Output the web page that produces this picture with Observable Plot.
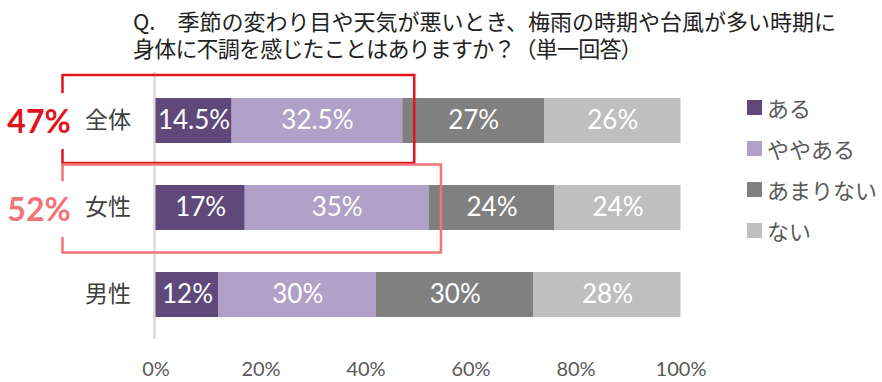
<!DOCTYPE html>
<html><head><meta charset="utf-8">
<script src="https://cdn.jsdelivr.net/npm/d3@7"></script>
<script src="https://cdn.jsdelivr.net/npm/@observablehq/plot@0.6"></script>
<style>
body{margin:0;background:#fff;}
#wrap{position:relative;width:882px;height:382px;overflow:hidden;font-family:"Noto Sans CJK JP",sans-serif;}
.tl{position:absolute;left:133px;font-size:22px;line-height:22px;height:22px;color:#222;white-space:nowrap;}
#chart{position:absolute;left:0;top:66px;}
.item{position:absolute;left:747px;height:26px;display:flex;align-items:center;font-size:22px;color:#595959;white-space:nowrap;}
.sw{width:15px;height:15px;margin-right:5px;}
</style></head>
<body>
<div id="wrap">
  <div id="title"></div>
  <div id="chart"></div>
  <div id="legend"></div>
</div>
<script>
const titleLines = ["Q.　季節の変わり目や天気が悪いとき、梅雨の時期や台風が多い時期に", "身体に不調を感じたことはありますか？（単一回答）"];
const categories = ["全体", "女性", "男性"];
const series = ["ある", "ややある", "あまりない", "ない"];
const aru = [14.5, 17, 12];
const yayaAru = [32.5, 35, 30];
const amariNai = [27, 24, 30];
const nai = [26, 24, 28];
const xTicks = [0, 20, 40, 60, 80, 100];
const highlightCats = ["全体", "女性"];

const colors = ["#5f497a", "#b1a0c7", "#808080", "#bfbfbf"];
const seriesValues = [aru, yayaAru, amariNai, nai];
const data = categories.flatMap((c, i) => seriesValues.map((arr, j) => ({cat: c, series: series[j], value: arr[i]})));
const boxes = highlightCats.map(c => { const i = categories.indexOf(c); return {cat: c, total: aru[i] + yayaAru[i]}; });
const boxRed = [boxes[0]], boxPink = [boxes[1]];
const red = "#e3131b", pink = "#f07479";

document.getElementById("title").innerHTML = titleLines.map((t, i) =>
  `<div class="tl" style="top:${9 + i * 27}px;${i ? "letter-spacing:-0.8px;" : ""}">${t}</div>`).join("");
const lg = document.getElementById("legend");
series.forEach((s, i) => {
  const d = document.createElement("div");
  d.className = "item";
  d.style.top = (94 + i * 41) + "px";
  d.innerHTML = `<span class="sw" style="background:${colors[i]}"></span><span>${s}</span>`;
  lg.appendChild(d);
});

const cjk = "Noto Sans CJK JP";
const chart = Plot.plot({
  width: 882, height: 316,
  marginLeft: 155.5, marginRight: 201.5, marginTop: 31, marginBottom: 65,
  style: {fontFamily: cjk, overflow: "visible", background: "white"},
  x: {domain: [0, 100]},
  y: {domain: categories, paddingInner: 0.486, paddingOuter: 0},
  color: {domain: series, range: colors},
  marks: [
    Plot.ruleX([0], {stroke: "#d9d9d9", strokeWidth: 2.5, dx: -1.5, insetTop: -25, insetBottom: -22}),
    Plot.barX(data, Plot.stackX({x: "value", y: "cat", z: "series", fill: "series", order: series})),
    Plot.text(data, Plot.stackX({x: "value", y: "cat", z: "series", order: series, text: d => d.value + "%", fill: "white", fontSize: 26, fontFamily: "Lato"})),
    Plot.barX(boxRed, {x1: 0, x2: "total", y: "cat", fill: "none", stroke: red, strokeWidth: 2.5, insetLeft: -93, insetRight: -12, insetTop: -23, insetBottom: -20}),
    Plot.barX(boxPink, {x1: 0, x2: "total", y: "cat", fill: "none", stroke: pink, strokeWidth: 2.5, insetLeft: -93, insetRight: -12.5, insetTop: -20.5, insetBottom: -22.5}),
    Plot.text(boxRed, {x: 0, y: "cat", text: d => d.total + "%", dx: -117, dy: 2, fontSize: 32, fontWeight: "bold", fontFamily: "Lato", fill: red, stroke: "white", strokeWidth: 32, strokeLinejoin: "round", paintOrder: "stroke"}),
    Plot.text(boxPink, {x: 0, y: "cat", text: d => d.total + "%", dx: -117, dy: 3, fontSize: 32, fontWeight: "bold", fontFamily: "Lato", fill: pink, stroke: "white", strokeWidth: 32, strokeLinejoin: "round", paintOrder: "stroke"}),
    Plot.axisY({tickSize: 0, tickPadding: 25, fontSize: 23, color: "#404040", label: null, fontFamily: cjk}),
    Plot.axisX({ticks: xTicks, tickFormat: d => d + "%", tickSize: 0, tickPadding: 44, fontSize: 20, fontFamily: "Lato", color: "#595959", label: null})
  ]
});
document.getElementById("chart").appendChild(chart);
</script>
</body></html>
